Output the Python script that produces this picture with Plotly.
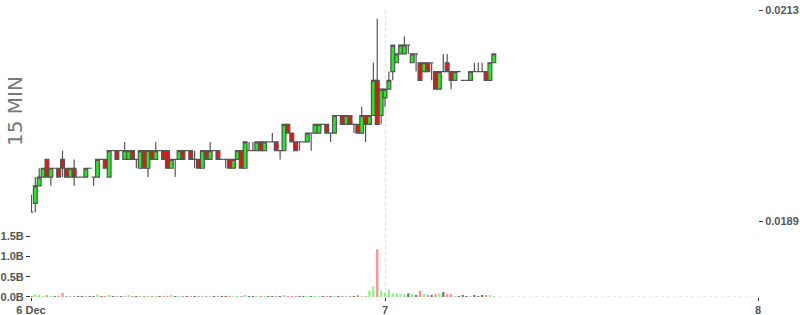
import plotly.graph_objects as go
import pandas as pd

start = "2023-12-06 01:15"
n_candles = 120

opens = [0.0190,0.0191,0.0193,0.0194,0.0196,0.0194,0.0195,0.0195,0.0196,0.0195,
         0.0194,0.0195,0.0194,0.0194,0.0194,0.0195,0.0194,0.0194,0.0196,0.0196,
         0.0194,0.0197,0.0197,0.0197,0.0196,0.0196,0.0197,0.0196,0.0195,0.0197,
         0.0195,0.0197,0.0196,0.0197,0.0197,0.0197,0.0195,0.0196,0.0196,0.0197,
         0.0197,0.0197,0.0196,0.0196,0.0195,0.0197,0.0196,0.0197,0.0197,0.0196,
         0.0196,0.0196,0.0195,0.0196,0.0197,0.0195,0.0197,0.0197,0.0197,0.0198,
         0.0197,0.0198,0.0198,0.0198,0.0197,0.0197,0.0200,0.0199,0.0198,0.0198,
         0.0198,0.0198,0.0199,0.0199,0.0199,0.0200,0.0200,0.0199,0.0199,0.0201,
         0.0201,0.0200,0.0201,0.0200,0.0200,0.0199,0.0201,0.0200,0.0201,0.0205,
         0.0201,0.0203,0.0204,0.0206,0.0207,0.0208,0.0208,0.0209,0.0207,0.0208,
         0.0207,0.0206,0.0207,0.0207,0.0206,0.0204,0.0206,0.0207,0.0206,0.0205,
         0.0206,0.0205,0.0205,0.0205,0.0206,0.0206,0.0206,0.0206,0.0205,0.0207]
highs = [0.0192,0.0194,0.0195,0.0195,0.0196,0.0195,0.0195,0.0195,0.0197,0.0195,
         0.0195,0.0196,0.0194,0.0194,0.0195,0.0195,0.0194,0.0196,0.0196,0.0196,
         0.0197,0.0197,0.0197,0.0197,0.0198,0.0197,0.0197,0.0196,0.0197,0.0197,
         0.0197,0.0197,0.0198,0.0197,0.0197,0.0197,0.0196,0.0196,0.0197,0.0197,
         0.0197,0.0197,0.0197,0.0196,0.0197,0.0197,0.0198,0.0197,0.0197,0.0196,
         0.0196,0.0196,0.0196,0.0197,0.0197,0.0198,0.0198,0.0198,0.0198,0.0198,
         0.0198,0.0198,0.0199,0.0198,0.0197,0.0200,0.0200,0.0199,0.0198,0.0198,
         0.0198,0.0199,0.0199,0.0200,0.0200,0.0200,0.0200,0.0199,0.0201,0.0201,
         0.0201,0.0201,0.0201,0.0200,0.0200,0.0202,0.0201,0.0201,0.0207,0.0212,
         0.0204,0.0204,0.0206,0.0209,0.0208,0.0209,0.0210,0.0209,0.0208,0.0208,
         0.0207,0.0207,0.0207,0.0207,0.0206,0.0206,0.0208,0.0208,0.0206,0.0206,
         0.0206,0.0205,0.0205,0.0206,0.0207,0.0207,0.0207,0.0206,0.0207,0.0208]
lows = [0.0190,0.0190,0.0193,0.0194,0.0194,0.0193,0.0195,0.0194,0.0194,0.0194,
        0.0194,0.0193,0.0194,0.0194,0.0194,0.0195,0.0193,0.0194,0.0196,0.0195,
        0.0194,0.0197,0.0196,0.0197,0.0196,0.0196,0.0196,0.0195,0.0195,0.0195,
        0.0194,0.0196,0.0196,0.0197,0.0196,0.0195,0.0195,0.0194,0.0196,0.0196,
        0.0197,0.0196,0.0195,0.0195,0.0195,0.0196,0.0196,0.0197,0.0196,0.0196,
        0.0195,0.0195,0.0195,0.0196,0.0195,0.0195,0.0197,0.0197,0.0197,0.0197,
        0.0197,0.0198,0.0198,0.0197,0.0196,0.0197,0.0199,0.0198,0.0197,0.0197,
        0.0198,0.0198,0.0197,0.0199,0.0199,0.0200,0.0199,0.0198,0.0199,0.0201,
        0.0200,0.0200,0.0200,0.0199,0.0199,0.0199,0.0198,0.0200,0.0201,0.0200,
        0.0200,0.0202,0.0204,0.0205,0.0207,0.0208,0.0208,0.0208,0.0207,0.0206,
        0.0205,0.0206,0.0206,0.0205,0.0204,0.0204,0.0206,0.0206,0.0204,0.0205,
        0.0206,0.0205,0.0205,0.0205,0.0206,0.0206,0.0206,0.0205,0.0205,0.0207]
closes = [0.0190,0.0193,0.0194,0.0195,0.0194,0.0195,0.0195,0.0194,0.0195,0.0194,
          0.0195,0.0194,0.0194,0.0194,0.0195,0.0195,0.0194,0.0196,0.0196,0.0195,
          0.0197,0.0197,0.0196,0.0197,0.0197,0.0197,0.0196,0.0196,0.0197,0.0195,
          0.0197,0.0196,0.0197,0.0197,0.0196,0.0195,0.0196,0.0196,0.0197,0.0196,
          0.0197,0.0196,0.0196,0.0195,0.0197,0.0196,0.0197,0.0197,0.0196,0.0196,
          0.0196,0.0195,0.0196,0.0197,0.0195,0.0198,0.0197,0.0197,0.0198,0.0197,
          0.0198,0.0198,0.0198,0.0197,0.0197,0.0200,0.0199,0.0198,0.0197,0.0198,
          0.0198,0.0199,0.0199,0.0200,0.0200,0.0200,0.0199,0.0199,0.0201,0.0201,
          0.0200,0.0201,0.0200,0.0200,0.0199,0.0201,0.0200,0.0201,0.0205,0.0200,
          0.0204,0.0204,0.0205,0.0209,0.0208,0.0209,0.0209,0.0209,0.0208,0.0208,
          0.0205,0.0207,0.0206,0.0207,0.0204,0.0206,0.0206,0.0206,0.0205,0.0206,
          0.0206,0.0205,0.0205,0.0206,0.0206,0.0206,0.0206,0.0205,0.0207,0.0208]
# volume in billions
volumes = [0.02,0.07,0.03,0.02,0.03,0.01,0.01,0.02,0.10,0.02,
           0.01,0.02,0.01,0.01,0.02,0.01,0.01,0.06,0.01,0.02,
           0.03,0.01,0.02,0.01,0.02,0.03,0.02,0.01,0.02,0.01,
           0.02,0.01,0.02,0.01,0.01,0.02,0.03,0.01,0.02,0.01,
           0.01,0.02,0.01,0.01,0.02,0.01,0.02,0.01,0.01,0.01,
           0.02,0.01,0.01,0.02,0.01,0.03,0.01,0.01,0.02,0.01,
           0.01,0.02,0.01,0.02,0.01,0.03,0.02,0.02,0.01,0.01,
           0.01,0.02,0.01,0.01,0.02,0.01,0.02,0.01,0.02,0.01,
           0.01,0.01,0.01,0.01,0.04,0.01,0.01,0.16,0.26,1.18,
           0.16,0.11,0.19,0.09,0.09,0.07,0.07,0.09,0.07,0.04,
           0.16,0.07,0.04,0.03,0.07,0.09,0.12,0.07,0.07,0.01,
           0.01,0.04,0.01,0.01,0.04,0.01,0.04,0.04,0.04,0.01]

times = pd.date_range(start, periods=n_candles, freq="15min")

x_range = ["2023-12-06 01:13:20", "2023-12-08 00:00"]
x_tick_vals = ["2023-12-06 01:13:20", "2023-12-07", "2023-12-08"]
x_tick_text = ["6 Dec", "7", "8"]
price_tick_vals = [0.0189, 0.0213]
price_tick_text = ["0.0189", "0.0213"]
vol_tick_vals = [0, 0.5, 1.0, 1.5]
vol_tick_text = ["0.0B", "0.5B", "1.0B", "1.5B"]

vol_colors = []
for o, c in zip(opens, closes):
    if c > o:
        vol_colors.append("#90f090")
    elif c < o:
        vol_colors.append("#ff9090")
    else:
        vol_colors.append("#777777")

fig = go.Figure()
fig.add_trace(go.Candlestick(
    x=times, open=opens, high=highs, low=lows, close=closes,
    increasing=dict(fillcolor="#1cf01c", line=dict(color="#555555", width=1.2)),
    decreasing=dict(fillcolor="#f01010", line=dict(color="#555555", width=1.2)),
    whiskerwidth=0, showlegend=False, yaxis="y", xaxis="x", hoverinfo="skip"))
fig.add_trace(go.Bar(
    x=times, y=volumes, marker=dict(color=vol_colors, line=dict(width=0)),
    width=15 * 60 * 1000 * 0.6, yaxis="y2", xaxis="x", showlegend=False,
    hoverinfo="skip"))

tick_font = dict(family="Liberation Sans", size=11, color="#555555", weight="bold")
grid_col = "#dddddd"

fig.update_layout(
    width=800, height=315,
    margin=dict(l=31, r=42, t=10, b=18),
    paper_bgcolor="white", plot_bgcolor="white",
    showlegend=False, bargap=0.3, boxgap=0.02, boxgroupgap=0,
    xaxis=dict(
        type="date", range=x_range,
        tickvals=x_tick_vals, ticktext=x_tick_text,
        showgrid=True, gridcolor=grid_col, griddash="3px,3px", gridwidth=1,
        ticks="outside", ticklen=3, tickcolor="#333333",
        tickfont=tick_font,
        anchor="y2", rangeslider=dict(visible=False), zeroline=False,
        showline=False, automargin=False),
    yaxis=dict(
        domain=[0.2648, 1.0], range=[0.0189, 0.0213], side="right",
        tickvals=price_tick_vals, ticktext=price_tick_text,
        showgrid=True, gridcolor=grid_col, griddash="3px,3px", gridwidth=1,
        ticks="outside", ticklen=4, tickcolor="#333333", tickfont=tick_font,
        zeroline=False, showline=False, anchor="x", automargin=False),
    yaxis2=dict(
        domain=[0.0, 0.2613], range=[0, 1.85], side="left",
        tickvals=vol_tick_vals, ticktext=vol_tick_text,
        showgrid=False, ticks="outside", ticklen=4, tickcolor="#333333",
        tickfont=tick_font, zeroline=False, showline=False, anchor="x",
        automargin=False),
    shapes=[dict(type="line", xref="paper", yref="y2", x0=0, x1=1, y0=0, y1=0,
                 line=dict(color=grid_col, width=1, dash="3px,3px"), layer="below")],
    annotations=[dict(text="15 MIN", textangle=-90, xref="paper", yref="paper",
                      x=-0.022, y=0.648, xanchor="center", yanchor="middle",
                      showarrow=False,
                      font=dict(family="DejaVu Sans", size=20, color="#777777"))],
)

fig.write_html("out.html")
